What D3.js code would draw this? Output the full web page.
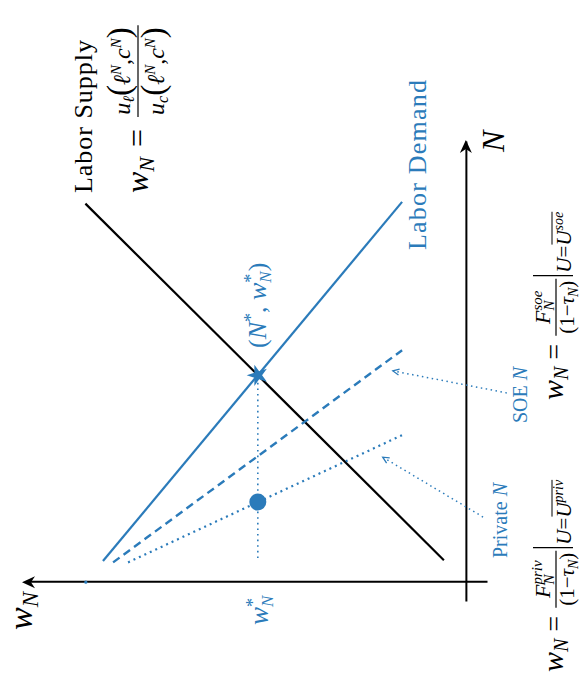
<!DOCTYPE html>
<html>
<head>
<meta charset="utf-8">
<script src="https://cdn.jsdelivr.net/npm/d3@7"></script>
<style>
  body { margin: 0; background: #fff; }
</style>
</head>
<body>
<svg id="chart"></svg>
<script>
const W = 585, H = 679;
const serif = "'Liberation Serif', 'DejaVu Serif', serif";
const BLUE = "#2b7bba";

// values (N = labour, w = wage)
const supplyN = [0.5, 8.6];
const supplyW = [0.5, 8.65];
const demandN = [0.48, 8.64];
const demandW = [8.25, 1.45];
const soeN = [0.45, 5.27];
const soeW = [8.02, 1.45];
const privN = [0.45, 3.34];
const privW = [7.68, 1.45];
const equilibrium = [4.7, 4.73]; // N*, w*
const privPoint = [1.82, 4.73];
const wStarN = [0.55, 4.7];
const soeArrowN = [4.3, 4.8];
const soeArrowW = [-0.93, 1.66];
const privArrowN = [1.48, 2.84];
const privArrowW = [-0.39, 1.89];

const svg = d3.select("#chart").attr("width", W).attr("height", H);
// the whole figure is drawn landscape and turned a quarter turn
const g = svg.append("g").attr("transform", `translate(0,${H}) rotate(-90)`);

const x = d3.scaleLinear().domain([-0.45, 10]).range([77, 537]);
const y = d3.scaleLinear().domain([-0.48, 10]).range([487, 26]);
const line = d3.line().x((d) => x(d[0])).y((d) => y(d[1]));
const pts = (ns, ws) => ns.map((n, i) => [n, ws[i]]);

// axes without ticks, arrow heads at the ends
g.append("g")
  .attr("transform", `translate(0,${y(0)})`)
  .call(d3.axisBottom(x).tickValues([]).tickSizeOuter(0));
g.append("g")
  .attr("transform", `translate(${x(0)},0)`)
  .call(d3.axisLeft(y).tickValues([]).tickSizeOuter(0));
g.selectAll(".domain").attr("stroke", "#000").attr("stroke-width", 2);

const head = "M0,0L-13,-6L-9,0L-13,6Z";
g.append("path").attr("d", head).attr("fill", "#000")
  .attr("transform", `translate(${x(10) + 2},${y(0)})`);
g.append("path").attr("d", head).attr("fill", "#000")
  .attr("transform", `translate(${x(0)},${y(10) - 4}) rotate(-90)`);

// curves
function curve(ns, ws, color, dash, sw) {
  g.append("path")
    .datum(pts(ns, ws))
    .attr("d", line)
    .attr("fill", "none")
    .attr("stroke", color)
    .attr("stroke-width", sw)
    .attr("stroke-dasharray", dash);
}
curve(supplyN, supplyW, "#000", null, 2.2);
curve(demandN, demandW, BLUE, null, 2.2);
curve(soeN, soeW, BLUE, "8,5", 2.4);
curve(privN, privW, BLUE, "2,4", 2.2);
curve(wStarN, [equilibrium[1], equilibrium[1]], BLUE, "1.6,4", 1.6);

g.append("circle")
  .attr("cx", x(0)).attr("cy", y(8.64)).attr("r", 1.6).attr("fill", BLUE);

// annotation arrows
function arrow(ns, ws) {
  const p = pts(ns, ws);
  g.append("path").datum(p).attr("d", line)
    .attr("fill", "none").attr("stroke", BLUE)
    .attr("stroke-width", 1.5).attr("stroke-dasharray", "1.5,3.5");
  const a = Math.atan2(y(ws[1]) - y(ws[0]), x(ns[1]) - x(ns[0]));
  const tip = [x(ns[1]), y(ws[1])];
  const hp = [a + 0.45, a - 0.45].map((t) => [tip[0] - 7 * Math.cos(t), tip[1] - 7 * Math.sin(t)]);
  g.append("path")
    .attr("d", `M${hp[0]}L${tip}L${hp[1]}`)
    .attr("fill", "none").attr("stroke", BLUE).attr("stroke-width", 1.3);
}
arrow(soeArrowN, soeArrowW);
arrow(privArrowN, privArrowW);

// markers
g.append("path")
  .attr("d", d3.symbol(d3.symbolStar, 140)())
  .attr("fill", BLUE)
  .attr("transform", `translate(${x(equilibrium[0])},${y(equilibrium[1])})`);
g.append("circle")
  .attr("cx", x(privPoint[0])).attr("cy", y(privPoint[1]))
  .attr("r", 8.5).attr("fill", BLUE);

// text helpers: segments {t, size, it, off (down shift), dx}
function rich(parent, px, py, segs, fill, anchor) {
  const t = parent.append("text")
    .attr("x", px).attr("y", py)
    .attr("font-family", serif)
    .attr("fill", fill || "#000")
    .attr("text-anchor", anchor || "start");
  let cur = 0;
  segs.forEach((s) => {
    const off = s.off || 0;
    const sp = t.append("tspan").attr("dy", off - cur).attr("font-size", s.size).text(s.t);
    if (s.it) sp.attr("font-style", "italic");
    if (s.dx) sp.attr("dx", s.dx);
    cur = off;
  });
  return t;
}
const len = (t) => t.node().getComputedTextLength();
function measure(segs) {
  const t = rich(g, 0, 0, segs);
  const w = len(t);
  t.remove();
  return w;
}
function frac(px, base, num, den, barOff, numOff, denOff, fill) {
  const n = rich(g, 0, base + numOff, num, fill, "middle");
  const d = rich(g, 0, base + denOff, den, fill, "middle");
  const w = Math.max(len(n), len(d)) + 4;
  n.attr("x", px + w / 2);
  d.attr("x", px + w / 2);
  g.append("line")
    .attr("x1", px).attr("x2", px + w)
    .attr("y1", base + barOff).attr("y2", base + barOff)
    .attr("stroke", fill || "#000").attr("stroke-width", 1.2);
  return w;
}

// labels
rich(g, 486, 92, [{ t: "Labor Supply", size: 26 }]).attr("textLength", 153);
rich(g, 429, 426, [{ t: "Labor Demand", size: 26 }], BLUE).attr("textLength", 170);
rich(g, 527, 504, [{ t: "N", size: 32, it: 1 }]);
rich(g, 49, 32, [{ t: "w", size: 34, it: 1 }, { t: "N", size: 23, it: 1, off: 6 }]);

const star = measure([{ t: "*", size: 18 }]);
rich(g, 331, 266, [
  { t: "(", size: 26 }, { t: "N", size: 26, it: 1 }, { t: "*", size: 18, off: -9 },
  { t: ", ", size: 26 }, { t: "w", size: 26, it: 1 }, { t: "*", size: 18, off: -9 },
  { t: "N", size: 17, it: 1, off: 5, dx: -star }, { t: ")", size: 26 }
], BLUE);
rich(g, 54, 268, [
  { t: "w", size: 27, it: 1 }, { t: "*", size: 18, off: -9 },
  { t: "N", size: 17, it: 1, off: 5, dx: -star }
], BLUE);
rich(g, 256, 527, [{ t: "SOE ", size: 20 }, { t: "N", size: 20, it: 1 }], BLUE);
rich(g, 121, 507, [{ t: "Private ", size: 20 }, { t: "N", size: 20, it: 1 }], BLUE);

// supply formula
let cx = 486;
cx += len(rich(g, cx, 148, [{ t: "w", size: 32, it: 1 }, { t: "N", size: 22, it: 1, off: 6 }])) + 10;
cx += len(rich(g, cx, 148, [{ t: "=", size: 32 }])) + 12;
const uArgs = (sub) => [
  { t: "u", size: 24, it: 1 }, { t: sub, size: 16, it: 1, off: 4 },
  { t: "(", size: 33 }, { t: "\u2113", size: 24, it: 1 }, { t: "N", size: 15, it: 1, off: -9 },
  { t: ",", size: 24 }, { t: "c", size: 24, it: 1 }, { t: "N", size: 15, it: 1, off: -9 },
  { t: ")", size: 33 }
];
frac(cx, 148, uArgs("\u2113"), uArgs("c"), -10, -18, 16);

// wage conditions at the bottom
function wageRule(x0, tag) {
  const base = 563;
  let c = x0;
  c += len(rich(g, c, base, [{ t: "w", size: 30, it: 1 }, { t: "N", size: 20, it: 1, off: 5 }])) + 7;
  c += len(rich(g, c, base, [{ t: "=", size: 28 }])) + 8;
  const tagW = measure([{ t: tag, size: 15, it: 1 }]);
  c += frac(c, base,
    [{ t: "F", size: 22, it: 1 }, { t: tag, size: 15, it: 1, off: -8 }, { t: "N", size: 15, it: 1, off: 4, dx: -tagW }],
    [{ t: "(1\u2212", size: 21 }, { t: "\u03c4", size: 21, it: 1 }, { t: "N", size: 14, it: 1, off: 4 }, { t: ")", size: 21 }],
    -7, -13, 11) + 3;
  g.append("line")
    .attr("x1", c).attr("x2", c)
    .attr("y1", base - 30).attr("y2", base + 10)
    .attr("stroke", "#000").attr("stroke-width", 1.1);
  c += 3;
  c += len(rich(g, c, base + 8, [{ t: "U", size: 21, it: 1 }, { t: "=", size: 21 }]));
  const ov = rich(g, c, base + 8, [{ t: "U", size: 21, it: 1 }, { t: tag, size: 14, it: 1, off: -8 }]);
  g.append("line")
    .attr("x1", c + 1).attr("x2", c + len(ov))
    .attr("y1", base - 11).attr("y2", base - 11)
    .attr("stroke", "#000").attr("stroke-width", 1);
}
wageRule(7, "priv");
wageRule(279, "soe");
</script>
</body>
</html>
